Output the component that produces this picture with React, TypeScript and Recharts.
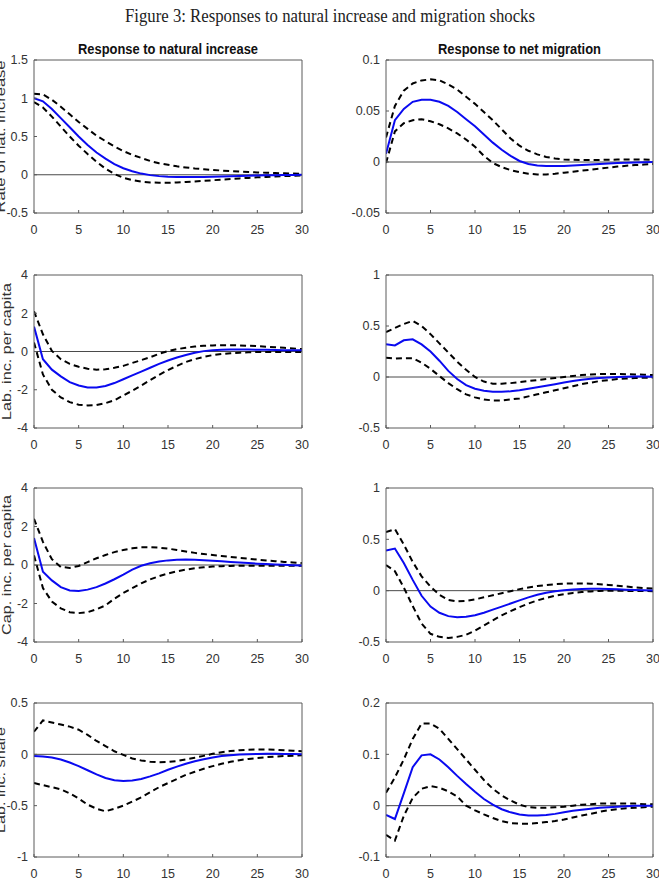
import React from 'react';
import { LineChart, Line, XAxis, YAxis, ReferenceLine } from 'recharts';

const horizons = [0,1,2,3,4,5,6,7,8,9,10,11,12,13,14,15,16,17,18,19,20,21,22,23,24,25,26,27,28,29,30];
const xTicks = [0, 5, 10, 15, 20, 25, 30];

const figureTitle = 'Figure 3: Responses to natural increase and migration shocks';
const columnTitles = ['Response to natural increase', 'Response to net migration'];
const rowLabels = ['Rate of nat. increase', 'Lab. inc. per capita', 'Cap. inc. per capita', 'Lab. inc. share'];

// Row 1: rate of natural increase
const rateNatMid = [1.00,0.96,0.86,0.74,0.62,0.50,0.39,0.29,0.21,0.14,0.085,0.045,0.015,-0.005,-0.018,-0.025,-0.028,-0.03,-0.03,-0.028,-0.025,-0.022,-0.018,-0.015,-0.012,-0.009,-0.007,-0.005,-0.003,-0.002,-0.001];
const rateNatUp = [1.06,1.05,0.98,0.89,0.79,0.69,0.60,0.51,0.44,0.37,0.31,0.26,0.22,0.18,0.15,0.13,0.11,0.095,0.082,0.072,0.063,0.055,0.048,0.042,0.036,0.031,0.026,0.022,0.018,0.015,0.012];
const rateNatLo = [0.95,0.88,0.76,0.63,0.50,0.38,0.27,0.17,0.08,0.01,-0.04,-0.07,-0.09,-0.1,-0.105,-0.105,-0.1,-0.095,-0.088,-0.08,-0.072,-0.064,-0.056,-0.048,-0.041,-0.034,-0.028,-0.023,-0.018,-0.014,-0.01];

const rateMigMid = [0.008,0.041,0.052,0.059,0.061,0.061,0.059,0.055,0.049,0.042,0.035,0.027,0.019,0.012,0.006,0.001,-0.002,-0.0035,-0.004,-0.004,-0.0038,-0.0034,-0.003,-0.0025,-0.002,-0.0015,-0.001,-0.0007,-0.0004,-0.0002,0];
const rateMigUp = [0.024,0.055,0.07,0.077,0.08,0.081,0.08,0.076,0.071,0.064,0.057,0.049,0.041,0.032,0.023,0.016,0.011,0.0075,0.005,0.0035,0.0025,0.0022,0.002,0.002,0.002,0.0022,0.0024,0.0025,0.0025,0.0024,0.0022];
const rateMigLo = [-0.001,0.03,0.038,0.041,0.042,0.040,0.037,0.033,0.028,0.022,0.015,0.006,-0.001,-0.005,-0.008,-0.010,-0.0115,-0.0122,-0.0122,-0.0115,-0.0105,-0.0095,-0.0085,-0.0075,-0.0065,-0.0055,-0.0045,-0.0037,-0.003,-0.0025,-0.002];

// Row 2: labour income per capita
const labNatMid = [1.3,-0.4,-0.95,-1.3,-1.6,-1.78,-1.88,-1.88,-1.8,-1.65,-1.45,-1.25,-1.05,-0.85,-0.65,-0.47,-0.31,-0.18,-0.07,0.02,0.07,0.09,0.1,0.1,0.1,0.095,0.09,0.08,0.07,0.065,0.06];
const labNatUp = [2.1,0.9,0.03,-0.4,-0.65,-0.8,-0.9,-0.95,-0.93,-0.85,-0.75,-0.6,-0.45,-0.3,-0.12,0.02,0.12,0.2,0.26,0.3,0.32,0.33,0.33,0.32,0.3,0.28,0.25,0.22,0.19,0.16,0.13];
const labNatLo = [0.47,-1.2,-2.0,-2.4,-2.65,-2.78,-2.82,-2.8,-2.7,-2.55,-2.3,-2.05,-1.78,-1.5,-1.22,-0.97,-0.75,-0.55,-0.4,-0.28,-0.19,-0.13,-0.09,-0.06,-0.04,-0.03,-0.02,-0.02,-0.02,-0.02,-0.02];

const labMigMid = [0.32,0.31,0.36,0.37,0.32,0.25,0.16,0.06,-0.02,-0.08,-0.115,-0.135,-0.145,-0.145,-0.14,-0.13,-0.115,-0.1,-0.085,-0.07,-0.055,-0.04,-0.028,-0.018,-0.01,-0.005,0.0,0.003,0.004,0.004,0.003];
const labMigUp = [0.44,0.48,0.52,0.55,0.5,0.42,0.33,0.24,0.15,0.07,0.0,-0.045,-0.065,-0.065,-0.06,-0.05,-0.04,-0.03,-0.02,-0.01,0.0,0.01,0.02,0.025,0.03,0.03,0.03,0.028,0.025,0.022,0.02];
const labMigLo = [0.19,0.18,0.185,0.185,0.14,0.08,0.01,-0.06,-0.12,-0.17,-0.2,-0.22,-0.23,-0.23,-0.22,-0.21,-0.19,-0.17,-0.15,-0.13,-0.11,-0.09,-0.07,-0.055,-0.04,-0.03,-0.02,-0.015,-0.01,-0.007,-0.005];

// Row 3: capital income per capita
const capNatMid = [1.4,-0.35,-0.8,-1.15,-1.32,-1.35,-1.28,-1.15,-0.96,-0.74,-0.5,-0.24,-0.04,0.09,0.18,0.24,0.27,0.285,0.275,0.25,0.22,0.19,0.16,0.13,0.1,0.07,0.05,0.03,0.01,-0.01,-0.02];
const capNatUp = [2.4,1.2,0.3,-0.1,-0.15,-0.05,0.15,0.35,0.52,0.67,0.78,0.87,0.92,0.92,0.9,0.85,0.78,0.7,0.63,0.57,0.52,0.47,0.42,0.37,0.33,0.28,0.24,0.2,0.16,0.13,0.1];
const capNatLo = [0.5,-1.2,-1.9,-2.25,-2.45,-2.5,-2.45,-2.3,-2.1,-1.75,-1.45,-1.2,-0.95,-0.75,-0.58,-0.44,-0.33,-0.24,-0.17,-0.12,-0.08,-0.06,-0.05,-0.04,-0.04,-0.04,-0.04,-0.04,-0.04,-0.04,-0.04];

const capMigMid = [0.39,0.41,0.27,0.105,-0.05,-0.155,-0.215,-0.248,-0.258,-0.255,-0.24,-0.215,-0.185,-0.155,-0.125,-0.095,-0.065,-0.04,-0.02,-0.005,0.005,0.012,0.016,0.018,0.018,0.016,0.013,0.01,0.007,0.004,0.002];
const capMigUp = [0.57,0.6,0.45,0.28,0.14,0.04,-0.04,-0.09,-0.105,-0.1,-0.085,-0.065,-0.045,-0.025,-0.005,0.015,0.03,0.045,0.055,0.063,0.068,0.07,0.07,0.068,0.063,0.056,0.048,0.04,0.032,0.025,0.02];
const capMigLo = [0.25,0.19,0.03,-0.15,-0.32,-0.42,-0.45,-0.46,-0.45,-0.43,-0.39,-0.34,-0.29,-0.24,-0.2,-0.16,-0.125,-0.095,-0.07,-0.05,-0.035,-0.022,-0.013,-0.007,-0.003,0,0,-0.002,-0.003,-0.004,-0.005];

// Row 4: labour income share
const shrNatMid = [-0.016,-0.02,-0.03,-0.05,-0.08,-0.115,-0.155,-0.195,-0.23,-0.252,-0.26,-0.255,-0.24,-0.215,-0.185,-0.15,-0.12,-0.092,-0.068,-0.047,-0.03,-0.017,-0.008,-0.002,0.002,0.004,0.005,0.005,0.004,0.003,0.002];
const shrNatUp = [0.22,0.33,0.31,0.29,0.27,0.24,0.19,0.13,0.08,0.03,-0.005,-0.04,-0.06,-0.072,-0.078,-0.075,-0.065,-0.05,-0.033,-0.015,0.005,0.02,0.032,0.04,0.045,0.047,0.047,0.045,0.04,0.035,0.03];
const shrNatLo = [-0.28,-0.3,-0.32,-0.34,-0.38,-0.43,-0.49,-0.53,-0.555,-0.53,-0.5,-0.46,-0.42,-0.37,-0.32,-0.28,-0.24,-0.2,-0.17,-0.14,-0.115,-0.092,-0.073,-0.057,-0.045,-0.036,-0.028,-0.022,-0.017,-0.013,-0.01];

const shrMigMid = [-0.018,-0.026,0.024,0.075,0.098,0.1,0.09,0.075,0.058,0.042,0.027,0.013,0.002,-0.007,-0.013,-0.017,-0.019,-0.019,-0.018,-0.016,-0.013,-0.01,-0.008,-0.006,-0.004,-0.003,-0.002,-0.001,0,0,0];
const shrMigUp = [0.025,0.055,0.09,0.13,0.16,0.16,0.15,0.13,0.11,0.09,0.07,0.05,0.033,0.02,0.01,0.002,-0.003,-0.004,-0.004,-0.003,-0.002,0,0.002,0.003,0.004,0.004,0.004,0.004,0.004,0.003,0.003];
const shrMigLo = [-0.057,-0.068,-0.02,0.015,0.033,0.038,0.035,0.028,0.018,0.0,-0.009,-0.017,-0.024,-0.03,-0.034,-0.035,-0.035,-0.034,-0.032,-0.03,-0.027,-0.023,-0.019,-0.016,-0.012,-0.009,-0.007,-0.005,-0.004,-0.003,-0.002];

const ticksRateNat = [-0.5, 0, 0.5, 1, 1.5];
const ticksRateMig = [-0.05, 0, 0.05, 0.1];
const ticksIncNat = [-4, -2, 0, 2, 4];
const ticksIncMig = [-0.5, 0, 0.5, 1];
const ticksShrNat = [-1, -0.5, 0, 0.5];
const ticksShrMig = [-0.1, 0, 0.1, 0.2];

const panels = [
  { row: 0, col: 0, mid: rateNatMid, up: rateNatUp, lo: rateNatLo, ticks: ticksRateNat },
  { row: 0, col: 1, mid: rateMigMid, up: rateMigUp, lo: rateMigLo, ticks: ticksRateMig },
  { row: 1, col: 0, mid: labNatMid, up: labNatUp, lo: labNatLo, ticks: ticksIncNat },
  { row: 1, col: 1, mid: labMigMid, up: labMigUp, lo: labMigLo, ticks: ticksIncMig },
  { row: 2, col: 0, mid: capNatMid, up: capNatUp, lo: capNatLo, ticks: ticksIncNat },
  { row: 2, col: 1, mid: capMigMid, up: capMigUp, lo: capMigLo, ticks: ticksIncMig },
  { row: 3, col: 0, mid: shrNatMid, up: shrNatUp, lo: shrNatLo, ticks: ticksShrNat },
  { row: 3, col: 1, mid: shrMigMid, up: shrMigUp, lo: shrMigLo, ticks: ticksShrMig },
];

// layout (pixels)
const rowTops = [60, 275, 488, 703];
const rowHeights = [153, 153, 154, 154];
const colPlotLeft = [34, 386];
const colPlotRight = [302, 653];
const colChartLeft = [0, 330];
const colChartWidth = [330, 329];
const PAD_TOP = 10;
const PAD_BOTTOM = 30;

const AXIS_COLOR = '#5a5a5a';
const TICK_FONT = { fontSize: 12.5, fill: '#333', fontFamily: 'Liberation Sans, Arial, sans-serif' };

function Panel({ p }: { p: any }) {
  const data = horizons.map((h, i) => ({ h, mid: p.mid[i], up: p.up[i], lo: p.lo[i] }));
  const chartLeft = colChartLeft[p.col];
  const width = colChartWidth[p.col];
  const plotH = rowHeights[p.row];
  const marginLeft = colPlotLeft[p.col] - chartLeft - 1;
  const marginRight = chartLeft + width - colPlotRight[p.col] - 1;
  const domain = [p.ticks[0], p.ticks[p.ticks.length - 1]];
  return (
    <div style={{ position: 'absolute', left: chartLeft, top: rowTops[p.row] - PAD_TOP }}>
      <LineChart
        width={width}
        height={plotH + PAD_TOP + PAD_BOTTOM}
        data={data}
        margin={{ top: PAD_TOP - 1, right: marginRight, bottom: PAD_BOTTOM - 1, left: marginLeft }}
      >
        <XAxis
          xAxisId="b"
          dataKey="h"
          type="number"
          domain={[0, 30]}
          ticks={xTicks}
          interval={0}
          height={1}
          tickSize={-3}
          tickMargin={15}
          stroke={AXIS_COLOR}
          tick={TICK_FONT}
          allowDataOverflow
        />
        <XAxis
          xAxisId="t"
          orientation="top"
          dataKey="h"
          type="number"
          domain={[0, 30]}
          ticks={xTicks}
          interval={0}
          height={1}
          tickSize={-3}
          tick={false}
          stroke={AXIS_COLOR}
          allowDataOverflow
        />
        <YAxis
          yAxisId="l"
          type="number"
          domain={domain}
          ticks={p.ticks}
          interval={0}
          width={1}
          tickSize={-3}
          tickMargin={9}
          stroke={AXIS_COLOR}
          tick={TICK_FONT}
          tickFormatter={(v: number) => String(v)}
          allowDataOverflow
        />
        <YAxis
          yAxisId="r"
          orientation="right"
          type="number"
          domain={domain}
          ticks={p.ticks}
          interval={0}
          width={1}
          tickSize={-3}
          tick={false}
          stroke={AXIS_COLOR}
          allowDataOverflow
        />
        <ReferenceLine xAxisId="b" yAxisId="l" y={0} stroke="#4a4a4a" strokeWidth={1} />
        <Line xAxisId="b" yAxisId="l" type="linear" dataKey="up" stroke="#000" strokeWidth={2} strokeDasharray="6 4" dot={false} isAnimationActive={false} />
        <Line xAxisId="b" yAxisId="l" type="linear" dataKey="lo" stroke="#000" strokeWidth={2} strokeDasharray="6 4" dot={false} isAnimationActive={false} />
        <Line xAxisId="b" yAxisId="l" type="linear" dataKey="mid" stroke="#0a0af0" strokeWidth={2} dot={false} isAnimationActive={false} />
      </LineChart>
    </div>
  );
}

const rowLabelX = [5, 11, 11, 5];
const rowLabelLen = [152, 137, 140, 106];

export default function App() {
  return (
    <div style={{ position: 'absolute', left: 0, top: 0, width: 659, height: 883, background: '#fff', overflow: 'hidden' }}>
      {panels.map((p, i) => (
        <Panel key={i} p={p} />
      ))}
      <svg width={659} height={883} style={{ position: 'absolute', left: 0, top: 0, pointerEvents: 'none' }}>
        <text x={330} y={22} textAnchor="middle" fontFamily="'Liberation Serif', 'DejaVu Serif', serif" fontSize={18} fill="#222" textLength={410} lengthAdjust="spacingAndGlyphs">
          {figureTitle}
        </text>
        <text x={168} y={54} textAnchor="middle" fontFamily="'Liberation Sans', Arial, sans-serif" fontWeight="bold" fontSize={14.5} fill="#111" textLength={180} lengthAdjust="spacingAndGlyphs">
          {columnTitles[0]}
        </text>
        <text x={519.5} y={54} textAnchor="middle" fontFamily="'Liberation Sans', Arial, sans-serif" fontWeight="bold" fontSize={14.5} fill="#111" textLength={163} lengthAdjust="spacingAndGlyphs">
          {columnTitles[1]}
        </text>
        {rowLabels.map((lab, r) => {
          const cy = rowTops[r] + rowHeights[r] / 2;
          const x = rowLabelX[r];
          return (
            <text
              key={lab}
              x={x}
              y={cy}
              transform={`rotate(-90 ${x} ${cy})`}
              textAnchor="middle"
              fontFamily="'Liberation Sans', Arial, sans-serif"
              fontSize={13}
              fill="#333"
              textLength={rowLabelLen[r]}
              lengthAdjust="spacingAndGlyphs"
            >
              {lab}
            </text>
          );
        })}
      </svg>
    </div>
  );
}
